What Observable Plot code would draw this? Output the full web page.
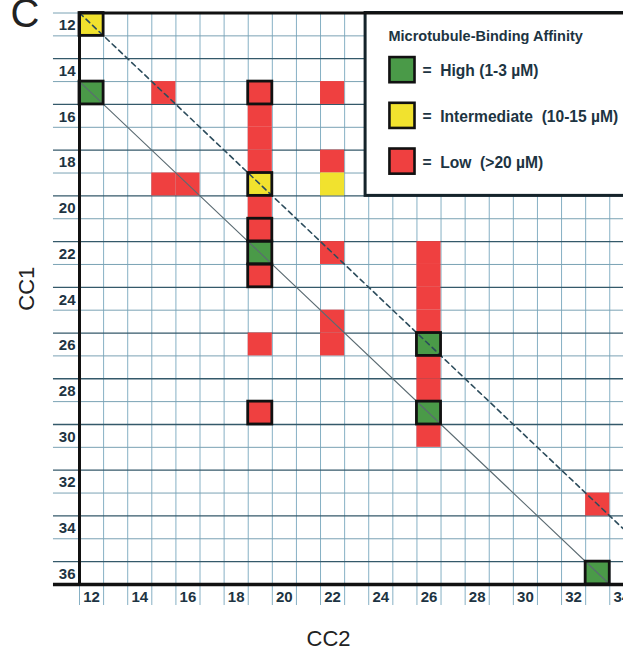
<!DOCTYPE html>
<html>
<head>
<meta charset="utf-8">
<script src="https://cdn.jsdelivr.net/npm/d3@7"></script>
<script src="https://cdn.jsdelivr.net/npm/@observablehq/plot@0.6"></script>
<style>
  html, body { margin: 0; padding: 0; background: #fff; overflow: hidden; }
  #chart svg { overflow: hidden; }
</style>
</head>
<body>
<div id="chart"></div>
<script>
// CC2 (column), CC1 (row), affinity class, boxed (outlined) flag
const cc2 = [12,12,15,19,22, 19,19,19,22, 15,16,19,22, 19, 19, 19,22,26, 19,26, 26, 22,26, 19,22,26, 26, 26, 19,26, 26, 33, 33];
const cc1 = [12,15,15,15,15, 16,17,18,18, 19,19,19,19, 20, 21, 22,22,22, 23,23, 24, 25,25, 26,26,26, 27, 28, 29,29, 30, 33, 36];
const affinity = ["Intermediate","High","Low","Low","Low",
  "Low","Low","Low","Low",
  "Low","Low","Intermediate","Intermediate",
  "Low","Low",
  "High","Low","Low",
  "Low","Low","Low",
  "Low","Low",
  "Low","Low","High",
  "Low","Low",
  "Low","High",
  "Low","Low","High"];
const boxed = [1,1,0,1,0, 0,0,0,0, 0,0,1,0, 0, 1, 1,0,0, 1,0, 0, 0,0, 0,0,1, 0, 0, 1,1, 0, 0, 1];

const xTicks = [12,14,16,18,20,22,24,26,28,30,32,34];
const yTicks = [12,14,16,18,20,22,24,26,28,30,32,34,36];

const legendTitle = "Microtubule-Binding Affinity";
const legendKeys = ["High", "Intermediate", "Low"];
const legendLabels = ["=\u00a0 High (1-3 \u00b5M)", "=\u00a0 Intermediate\u00a0 (10-15 \u00b5M)", "=\u00a0 Low\u00a0 (>20 \u00b5M)"];
const legendRows = [14, 16, 18];

const colorDomain = ["High", "Intermediate", "Low"];
const colorRange = ["#4a9a48", "#f1e22e", "#ef4040"];

// diagonal reference lines: CC1 = CC2 + offset
const diagOffsets = [0, 3];

const cells = cc2.map((x, i) => ({cc2: x, cc1: cc1[i], affinity: affinity[i], boxed: boxed[i] === 1}));

const xMin = 11.5, xMax = 34.07, yMin = 11.5, yMax = 36.5;
const xLeftExt = 10.42;
const yBelowExt = 37.42;

const vBounds = d3.range(11.5, 34.0, 1);
const hBounds = d3.range(12.5, 36.0, 1);
const hDark = hBounds.filter(b => (Math.round(b - 0.5)) % 2 === 1);
const hLight = hBounds.filter(b => (Math.round(b - 0.5)) % 2 === 0);

const solid = [{x: 11.5, y: 11.5 + diagOffsets[1]}, {x: 33.5, y: 33.5 + diagOffsets[1]}];
const dashed = [{x: 11.5, y: 11.5 + diagOffsets[0]}, {x: 34.6, y: 34.6 + diagOffsets[0]}];

const legendItems = legendKeys.map((k, i) => ({key: k, label: legendLabels[i], row: legendRows[i]}));

const plot = Plot.plot({
  width: 623,
  height: 651,
  marginLeft: 79,
  marginRight: 0,
  marginTop: 12.5,
  marginBottom: 67,
  style: {fontFamily: "'Liberation Sans', Arial, sans-serif", background: "#fff", overflow: "hidden"},
  x: {type: "linear", domain: [xMin, xMax], range: [79, 623]},
  y: {type: "linear", domain: [yMin, yMax], range: [12.5, 584]},
  color: {domain: colorDomain, range: colorRange},
  marks: [
    // grid
    Plot.ruleX(vBounds, {x: d => d, y1: yMin, y2: yBelowExt, stroke: "#86b0c4", strokeWidth: 1}),
    Plot.ruleY([11.5], {y: d => d, x1: xLeftExt, x2: xMin, stroke: "#7aa2b4", strokeWidth: 1}),
    Plot.ruleY(hLight, {y: d => d, x1: xLeftExt, x2: 34.6, stroke: "#7aa2b4", strokeWidth: 1}),
    Plot.ruleY(hDark, {y: d => d, x1: xLeftExt, x2: 34.6, stroke: "#34596a", strokeWidth: 1.3}),
    // cells
    Plot.rect(cells, {x1: d => d.cc2 - 0.5, x2: d => d.cc2 + 0.5, y1: d => d.cc1 - 0.5, y2: d => d.cc1 + 0.5, fill: "affinity"}),
    // diagonals
    Plot.line(dashed, {x: "x", y: "y", stroke: "#2c4c5c", strokeWidth: 1.6, strokeDasharray: "5,4"}),
    Plot.line(solid, {x: "x", y: "y", stroke: "#5b6b72", strokeWidth: 1.1}),
    // outlines
    Plot.rect(cells.filter(d => d.boxed), {x1: d => d.cc2 - 0.5, x2: d => d.cc2 + 0.5, y1: d => d.cc1 - 0.5, y2: d => d.cc1 + 0.5, fill: "none", stroke: "#111", strokeWidth: 2.8}),
    // legend box
    Plot.rect([0], {x1: 23.37, x2: 34.6, y1: 11.5, y2: 19.5, fill: "#fff", stroke: "#15232a", strokeWidth: 3}),
    Plot.text([legendTitle], {x: 24.32, y: 12.5, text: d => d, textAnchor: "start", fontSize: 14.5, fontWeight: "bold", fill: "#1d3442"}),
    Plot.rect(legendItems, {x1: 24.38, x2: 25.42, y1: d => d.row - 0.55, y2: d => d.row + 0.55, fill: "key", stroke: "#111", strokeWidth: 2.6}),
    Plot.text(legendItems, {x: 25.73, y: "row", text: "label", textAnchor: "start", fontSize: 15.6, fontWeight: "bold", fill: "#1d3442", dy: 1}),
    // frame
    Plot.ruleY([yMax], {y: d => d, x1: xLeftExt, x2: 34.6, stroke: "#111", strokeWidth: 3.5}),
    Plot.ruleY([yMin], {y: d => d, x1: xMin, x2: 34.6, stroke: "#111", strokeWidth: 3}),
    Plot.ruleX([xMin], {x: d => d, y1: yMin, y2: yMax, stroke: "#111", strokeWidth: 3}),
    // axes
    Plot.axisX(xTicks, {anchor: "bottom", tickSize: 0, tickPadding: 7, fontSize: 15, fontWeight: "bold", fill: "#1d3442", label: null}),
    Plot.axisY(yTicks, {anchor: "left", tickSize: 0, tickPadding: 4, fontSize: 15, fontWeight: "bold", fill: "#1d3442", label: null, dy: 1}),
    // axis titles
    Plot.text(["CC1"], {frameAnchor: "left", lineAnchor: "middle", text: d => d, rotate: -90, dx: -53, dy: 12, fontSize: 22, fill: "#222"}),
    Plot.text(["CC2"], {frameAnchor: "bottom", lineAnchor: "middle", text: d => d, dx: -23, dy: 54, fontSize: 22, fill: "#222"}),
    Plot.text(["C"], {frameAnchor: "top-left", lineAnchor: "middle", text: d => d, textAnchor: "start", dx: -69, dy: 0.7, fontSize: 40, fill: "#222"})
  ]
});
document.getElementById("chart").appendChild(plot);
</script>
</body>
</html>
